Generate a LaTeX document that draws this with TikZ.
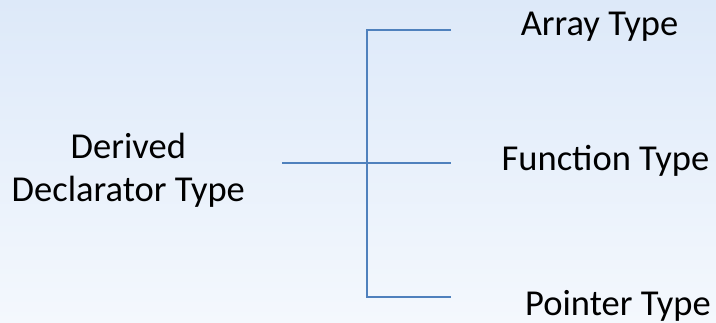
\documentclass[tikz,border=0pt]{standalone}
\usepackage{fontspec}
\setmainfont{Carlito}
\definecolor{bgtop}{RGB}{221,233,249}
\definecolor{bgbottom}{RGB}{244,248,253}
\definecolor{branch}{RGB}{79,129,189}
\begin{document}
\begin{tikzpicture}[x=1pt,y=-1pt,
  label/.style={font=\fontsize{36.5}{43.5}\selectfont, inner sep=0pt, text=black},
  branchline/.style={draw=branch, line width=2pt}]
  % background
  \fill[top color=bgtop, bottom color=bgbottom] (0,0) rectangle (716,322);
  \useasboundingbox (0,0) rectangle (716,322);

  % labels
  \node[label, anchor=base] (array) at (599.5,35) {Array Type};
  \node[label, anchor=base] (function) at (605.5,170) {Function Type};
  \node[label, anchor=base] (pointer) at (618,315) {Pointer Type};
  \node[label, align=center, anchor=base] (root) at (128.3,201.7) {Derived\\Declarator Type};

  % tree junctions
  \coordinate (rootend) at (282,162.5);
  \coordinate (trunktop) at (366.7,29.5);
  \coordinate (trunkmid) at (366.7,162.5);
  \coordinate (trunkbot) at (366.7,297.3);
  \coordinate (arrayend) at (451,29.5);
  \coordinate (functionend) at (451,162.5);
  \coordinate (pointerend) at (451,297.3);

  % connectors
  \draw[branchline] (rootend) -- (functionend);
  \draw[branchline] (arrayend) -- (trunktop) -- (trunkbot) -- (pointerend);
\end{tikzpicture}
\end{document}
